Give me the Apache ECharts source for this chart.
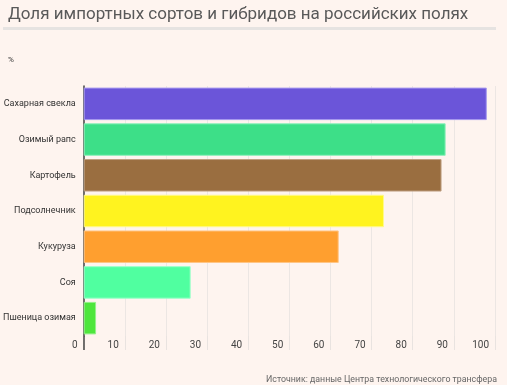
<!DOCTYPE html>
<html><head><meta charset="utf-8">
<script src="https://cdn.jsdelivr.net/npm/echarts@6/dist/echarts.min.js"></script>
<style>html,body{margin:0;padding:0;background:#fef4ef;}#c{width:507px;height:385px;}</style>
</head><body><div id="c"></div>
<script>
const categories = ['Сахарная свекла','Озимый рапс','Картофель','Подсолнечник','Кукуруза','Соя','Пшеница озимая'];
const values = [98, 88, 87, 73, 62, 26, 3];
const colors = ['#6b55d9','#3ddf88','#9a6e40','#fff31f','#ff9f2f','#50ffa0','#4ee63c'];
const borderColors = ['#a597ef','#8ef0bb','#bd9e80','#fffa8a','#ffc585','#9bffc9','#95f08a'];
const xTicks = [0,10,20,30,40,50,60,70,80,90,100];
const titleText = 'Доля импортных сортов и гибридов на российских полях';
const unitText = '%';
const sourceText = 'Источник: данные Центра технологического трансфера';

const chart = echarts.init(document.getElementById('c'));
chart.setOption({
  backgroundColor: '#fef4ef',
  animation: false,
  title: [
    {text: titleText, left: 3, top: 1, textStyle:{fontFamily:'Roboto', fontSize:17, fontWeight:'normal', color:'#595959'}},
    {text: unitText, left: 3, top: 51, textStyle:{fontFamily:'Roboto', fontSize:8, fontWeight:'normal', color:'#333'}},
    {text: sourceText, right: 5, top: 370, textStyle:{fontFamily:'Roboto', fontSize:8.8, fontWeight:'normal', color:'#666'}}
  ],
  graphic: [{type:'rect', shape:{x:3, y:27, width:493, height:3}, style:{fill:'#e6e3e1'}}],
  grid: {left: 81, right: 12, top: 86, bottom: 49, containLabel:false},
  xAxis: [{
    type:'value', min: xTicks[0], max: xTicks[xTicks.length-1], interval: 10,
    axisLine:{show:false},
    axisTick:{show:true, length:14, lineStyle:{color:'#e9e3e0'}},
    splitLine:{show:true, lineStyle:{color:'#ece6e3', width:1}},
    axisLabel:{fontFamily:'Roboto', fontSize:10, color:'#444', align:'right', padding:[0,6,0,0], margin:4}
  },{
    type:'value', min: xTicks[0], max: xTicks[xTicks.length-1], position:'bottom',
    axisLine:{show:false}, splitLine:{show:false}, axisLabel:{show:false},
    axisTick:{show:true, length:14, customValues:[xTicks[0]], lineStyle:{color:'#444', width:1.5}}
  }],
  yAxis: {
    type:'category', data: categories, inverse:true,
    axisLine:{show:true, lineStyle:{color:'#444', width:1.5}},
    axisTick:{show:false},
    axisLabel:{fontFamily:'Roboto', fontSize:9, color:'#333', margin:8}
  },
  series: [{
    type:'bar', xAxisIndex:0,
    data: values.map((v,i)=>({value:v, itemStyle:{color:colors[i], borderColor:borderColors[i], borderWidth:1}})),
    barCategoryGap:'9%'
  }]
});
</script></body></html>
